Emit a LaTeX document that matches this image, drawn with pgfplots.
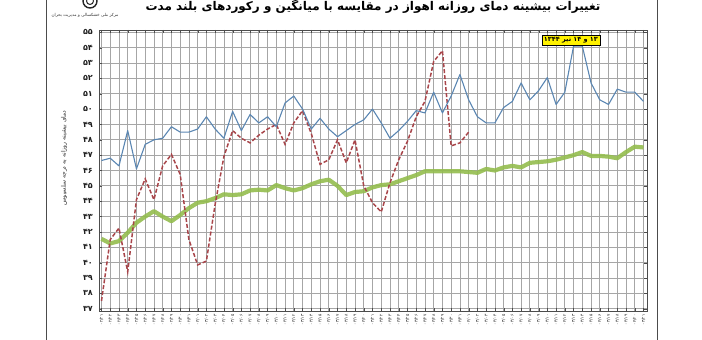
\documentclass[border=0pt]{standalone}
\usepackage{pgfplots}
\pgfplotsset{compat=1.18}
\usepackage{fontspec}
\setmainfont{DejaVu Sans}
\newfontfamily\arabicfont[Script=Arabic]{DejaVu Sans}
\TeXXeTstate=1
\definecolor{bl}{HTML}{5A86B2}
\definecolor{rd}{HTML}{A8454A}
\definecolor{gr}{HTML}{93BD4E}

\pgfplotstableread{
i v
0 46.65
1 46.8
2 46.3
3 48.6
4 46.1
5 47.7
6 48.0
7 48.1
8 48.85
9 48.5
10 48.5
11 48.7
12 49.5
13 48.7
14 48.1
15 49.85
16 48.6
17 49.65
18 49.1
19 49.5
20 48.85
21 50.4
22 50.85
23 50.0
24 48.7
25 49.4
26 48.7
27 48.2
28 48.6
29 49.0
30 49.3
31 50.0
32 49.1
33 48.1
34 48.6
35 49.2
36 49.9
37 49.75
38 51.1
39 49.75
40 50.85
41 52.25
42 50.6
43 49.5
44 49.1
45 49.1
46 50.1
47 50.5
48 51.7
49 50.6
50 51.2
51 52.05
52 50.3
53 51.1
54 54.1
55 54.1
56 51.7
57 50.6
58 50.3
59 51.3
60 51.1
61 51.1
62 50.5
}\blue

\pgfplotstableread{
i v
0 37.5
1 41.5
2 42.25
3 39.4
4 44.1
5 45.45
6 44.1
7 46.3
8 47.05
9 45.75
10 41.5
11 39.85
12 40.1
13 43.8
14 46.9
15 48.6
16 48.1
17 47.8
18 48.3
19 48.7
20 49.0
21 47.7
22 49.1
23 49.9
24 48.4
25 46.4
26 46.7
27 48.0
28 46.5
29 48.0
30 45.0
31 43.9
32 43.3
33 45.2
34 46.7
35 47.9
36 49.5
37 50.5
38 53.1
39 53.8
40 47.6
41 47.8
42 48.5
}\red

\pgfplotstableread{
i v
0 41.55
1 41.25
2 41.4
3 41.95
4 42.6
5 43.0
6 43.35
7 43.0
8 42.7
9 43.1
10 43.55
11 43.9
12 44.0
13 44.2
14 44.45
15 44.4
16 44.45
17 44.7
18 44.75
19 44.7
20 45.05
21 44.85
22 44.7
23 44.85
24 45.1
25 45.3
26 45.4
27 45.0
28 44.4
29 44.6
30 44.65
31 44.9
32 45.05
33 45.1
34 45.3
35 45.5
36 45.7
37 45.95
38 45.95
39 45.95
40 45.95
41 45.95
42 45.9
43 45.85
44 46.1
45 46.0
46 46.2
47 46.3
48 46.2
49 46.5
50 46.55
51 46.6
52 46.7
53 46.85
54 47.0
55 47.2
56 46.95
57 46.95
58 46.9
59 46.8
60 47.2
61 47.55
62 47.5
}\green

\begin{document}
\begin{tikzpicture}[x=1pt,y=1pt]
\useasboundingbox (0,0) rectangle (702,340);
\draw[gray!60!black, line width=0.9pt] (46,-10) rectangle (657,360);
% logo
\draw[gray!30!black, line width=1.4pt] (90,339) circle (7);
\draw[gray!30!black, line width=1pt] (90,339) circle (3.5);
\node[font=\arabicfont\fontsize{4.2}{5}\selectfont, text=gray!40!black] at (85,325) {\beginR مرکز ملی خشکسالی و مدیریت بحران\endR};
% title
\node[font=\arabicfont\bfseries\fontsize{12}{13}\selectfont, text=black] at (373,333.5) {\beginR تغییرات بیشینه دمای روزانه اهواز در مقایسه با میانگین و رکوردهای بلند مدت\endR};
% y label
\node[rotate=90, font=\arabicfont\fontsize{6}{6}\selectfont, text=gray!30!black] at (64,182) {\beginR دمای بیشینه روزانه به درجه سلسیوس\endR};
\begin{axis}[at={(99.3pt,29pt)}, anchor=south west, scale only axis,
  width=547.7pt, height=281pt,
  xmin=-0.25, xmax=62.4, ymin=36.85, ymax=55.15,
  ytick={37,...,55},
  yticklabels={۳۷,۳۸,۳۹,۴۰,۴۱,۴۲,۴۳,۴۴,۴۵,۴۶,۴۷,۴۸,۴۹,۵۰,۵۱,۵۲,۵۳,۵۴,۵۵},
  xtick={0,...,62},
  xticklabels={\beginR۰۲/۲۱\endR,\beginR۰۲/۲۲\endR,\beginR۰۲/۲۳\endR,\beginR۰۲/۲۴\endR,\beginR۰۲/۲۵\endR,\beginR۰۲/۲۶\endR,\beginR۰۲/۲۷\endR,\beginR۰۲/۲۸\endR,\beginR۰۲/۲۹\endR,\beginR۰۲/۳۰\endR,\beginR۰۲/۳۱\endR,
    \beginR۰۳/۰۱\endR,\beginR۰۳/۰۲\endR,\beginR۰۳/۰۳\endR,\beginR۰۳/۰۴\endR,\beginR۰۳/۰۵\endR,\beginR۰۳/۰۶\endR,\beginR۰۳/۰۷\endR,\beginR۰۳/۰۸\endR,\beginR۰۳/۰۹\endR,\beginR۰۳/۱۰\endR,
    \beginR۰۳/۱۱\endR,\beginR۰۳/۱۲\endR,\beginR۰۳/۱۳\endR,\beginR۰۳/۱۴\endR,\beginR۰۳/۱۵\endR,\beginR۰۳/۱۶\endR,\beginR۰۳/۱۷\endR,\beginR۰۳/۱۸\endR,\beginR۰۳/۱۹\endR,\beginR۰۳/۲۰\endR,
    \beginR۰۳/۲۱\endR,\beginR۰۳/۲۲\endR,\beginR۰۳/۲۳\endR,\beginR۰۳/۲۴\endR,\beginR۰۳/۲۵\endR,\beginR۰۳/۲۶\endR,\beginR۰۳/۲۷\endR,\beginR۰۳/۲۸\endR,\beginR۰۳/۲۹\endR,\beginR۰۳/۳۰\endR,\beginR۰۳/۳۱\endR,
    \beginR۰۴/۰۱\endR,\beginR۰۴/۰۲\endR,\beginR۰۴/۰۳\endR,\beginR۰۴/۰۴\endR,\beginR۰۴/۰۵\endR,\beginR۰۴/۰۶\endR,\beginR۰۴/۰۷\endR,\beginR۰۴/۰۸\endR,\beginR۰۴/۰۹\endR,\beginR۰۴/۱۰\endR,
    \beginR۰۴/۱۱\endR,\beginR۰۴/۱۲\endR,\beginR۰۴/۱۳\endR,\beginR۰۴/۱۴\endR,\beginR۰۴/۱۵\endR,\beginR۰۴/۱۶\endR,\beginR۰۴/۱۷\endR,\beginR۰۴/۱۸\endR,\beginR۰۴/۱۹\endR,\beginR۰۴/۲۰\endR,\beginR۰۴/۲۱\endR},
  grid=major,
  major grid style={gray!70, line width=0.75pt},
  axis line style={gray!60!black, line width=0.8pt},
  major tick length=3pt,
  tick style={gray!60!black},
  yticklabel style={font=\arabicfont\bfseries\fontsize{8}{8}\selectfont, text=gray!25!black, xshift=-3pt},
  xticklabel style={rotate=90, anchor=east, font=\arabicfont\fontsize{4.3}{5}\selectfont, text=gray!30!black},
  clip=false,
]
\addplot[gr, opacity=0.9, line width=4.2pt, line join=round] table[x=i,y=v] {\green};
\addplot[rd, line width=1.5pt, dash pattern=on 4pt off 2pt] table[x=i,y=v] {\red};
\addplot[bl, line width=1.1pt, line join=round] table[x=i,y=v] {\blue};
\node[draw=black, fill=yellow, inner sep=2pt, font=\arabicfont\bfseries\fontsize{6.5}{7}\selectfont] at (axis cs:53.7,54.5) {\beginR ۱۳ و ۱۴ تیر ۱۳۴۴\endR};
\end{axis}
\end{tikzpicture}
\end{document}
